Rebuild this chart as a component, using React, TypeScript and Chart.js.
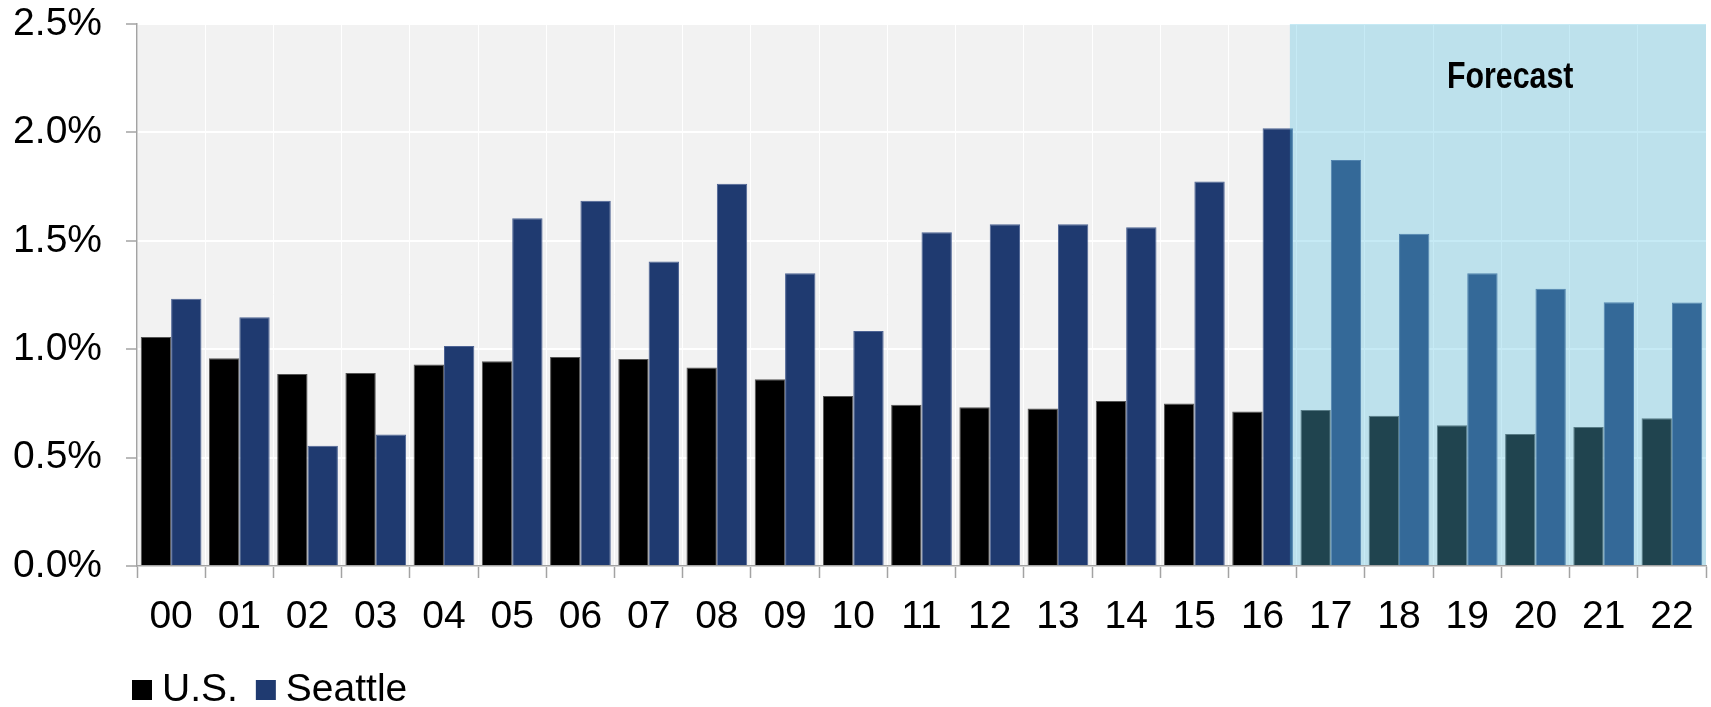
import React, { useEffect, useRef } from "react";
import { Chart, registerables } from "chart.js";

Chart.register(...registerables);

// Annual population growth, percent
const years = ["00", "01", "02", "03", "04", "05", "06", "07", "08", "09", "10", "11", "12", "13", "14", "15", "16", "17", "18", "19", "20", "21", "22"];
const usGrowth = [1.056, 0.958, 0.886, 0.89, 0.93, 0.944, 0.964, 0.955, 0.916, 0.861, 0.784, 0.744, 0.732, 0.727, 0.761, 0.75, 0.713, 0.72, 0.693, 0.649, 0.609, 0.641, 0.681];
const seattleGrowth = [1.233, 1.147, 0.555, 0.606, 1.015, 1.604, 1.685, 1.405, 1.763, 1.35, 1.084, 1.539, 1.576, 1.576, 1.562, 1.774, 2.019, 1.873, 1.533, 1.35, 1.279, 1.216, 1.215];
const seriesNames = ["U.S.", "Seattle"];
const seriesColors = ["#000000", "#1f3a70"];
const seriesBorders = ["#555555", "#4d6394"];
const yMin = 0;
const yMax = 2.5;
const yStep = 0.5;

// Forecast band starts inside the 2016 group (category index units)
const forecastFrom = 16.4;
const forecastLabelAt = 19.63;
const forecastLabel = "Forecast";

const FONT = "'Liberation Sans', Arial, sans-serif";
const TEXT_SIZE = 39;
const AXIS_GRAY = "#a3a3a3";

const plotBackground = {
  id: "plotBackground",
  beforeDraw(chart: any) {
    const { ctx, chartArea } = chart;
    ctx.save();
    ctx.fillStyle = "#f2f2f2";
    ctx.fillRect(chartArea.left, chartArea.top, chartArea.right - chartArea.left, chartArea.bottom - chartArea.top);
    ctx.restore();
  },
};

const forecastBand = {
  id: "forecastBand",
  afterDatasetsDraw(chart: any) {
    const { ctx, chartArea } = chart;
    const x = chart.scales.x;
    const left = x.getPixelForValue(forecastFrom);
    ctx.save();
    ctx.fillStyle = "rgba(91,194,225,0.35)";
    ctx.fillRect(left, chartArea.top, chartArea.right - left, chartArea.bottom - chartArea.top - 1);
    // narrow bold caption, condensed horizontally
    ctx.fillStyle = "#000";
    ctx.font = `bold 37px ${FONT}`;
    ctx.textAlign = "center";
    ctx.textBaseline = "alphabetic";
    ctx.translate(x.getPixelForValue(forecastLabelAt), chartArea.top + 64);
    ctx.scale(0.82, 1);
    ctx.fillText(forecastLabel, 0, 0);
    ctx.restore();
  },
};

const bottomLegend = {
  id: "bottomLegend",
  afterDraw(chart: any) {
    const { ctx } = chart;
    const box = 20;
    let cx = 132;
    const boxTop = 680;
    const baseline = 701;
    ctx.save();
    ctx.font = `${TEXT_SIZE}px ${FONT}`;
    ctx.textBaseline = "alphabetic";
    ctx.textAlign = "left";
    chart.data.datasets.forEach((ds: any) => {
      ctx.fillStyle = ds.backgroundColor;
      ctx.fillRect(cx, boxTop, box, box);
      cx += box + 10;
      ctx.fillStyle = "#000";
      ctx.fillText(ds.label, cx, baseline);
      cx += ctx.measureText(ds.label).width + 18;
    });
    ctx.restore();
  },
};

export default function App() {
  const canvasRef = useRef<HTMLCanvasElement | null>(null);

  useEffect(() => {
    if (!canvasRef.current) return;
    const chart = new Chart(canvasRef.current, {
      type: "bar",
      data: {
        labels: years,
        datasets: [
          {
            label: seriesNames[0],
            data: usGrowth,
            backgroundColor: seriesColors[0],
            borderColor: seriesBorders[0],
            borderWidth: 1,
          },
          {
            label: seriesNames[1],
            data: seattleGrowth,
            backgroundColor: seriesColors[1],
            borderColor: seriesBorders[1],
            borderWidth: 1,
          },
        ],
      },
      options: {
        responsive: false,
        animation: false,
        devicePixelRatio: 1,
        layout: { padding: { top: 0, right: 5, left: 0, bottom: 0 } },
        datasets: {
          bar: { categoryPercentage: 0.89, barPercentage: 1 },
        },
        plugins: {
          legend: { display: false },
          tooltip: { enabled: false },
        },
        scales: {
          x: {
            offset: true,
            grid: {
              offset: true,
              color: "#ffffff",
              lineWidth: 1,
              tickColor: AXIS_GRAY,
              tickLength: 12,
              tickWidth: 1.5,
            },
            border: { color: AXIS_GRAY, width: 1.5 },
            ticks: {
              color: "#000",
              font: { family: FONT, size: TEXT_SIZE },
              padding: 16,
              maxRotation: 0,
              autoSkip: false,
            },
            afterFit(scale: any) {
              scale.height = 141;
            },
          },
          y: {
            min: yMin,
            max: yMax,
            grid: {
              color: "#ffffff",
              lineWidth: 2,
              tickColor: AXIS_GRAY,
              tickLength: 11,
              tickWidth: 1.5,
            },
            border: { color: AXIS_GRAY, width: 1.5 },
            ticks: {
              stepSize: yStep,
              color: "#000",
              font: { family: FONT, size: TEXT_SIZE },
              padding: 24,
              callback: (v: any) => Number(v).toFixed(1) + "%",
            },
            afterFit(scale: any) {
              scale.width = 137;
              scale.paddingTop = 24;
              scale.paddingBottom = 0;
            },
          },
        },
      },
      plugins: [plotBackground, forecastBand, bottomLegend],
    });
    return () => chart.destroy();
  }, []);

  return (
    <div style={{ position: "fixed", left: 0, top: 0, width: 1711, height: 707, background: "#fff" }}>
      <canvas ref={canvasRef} width={1711} height={707} />
    </div>
  );
}
